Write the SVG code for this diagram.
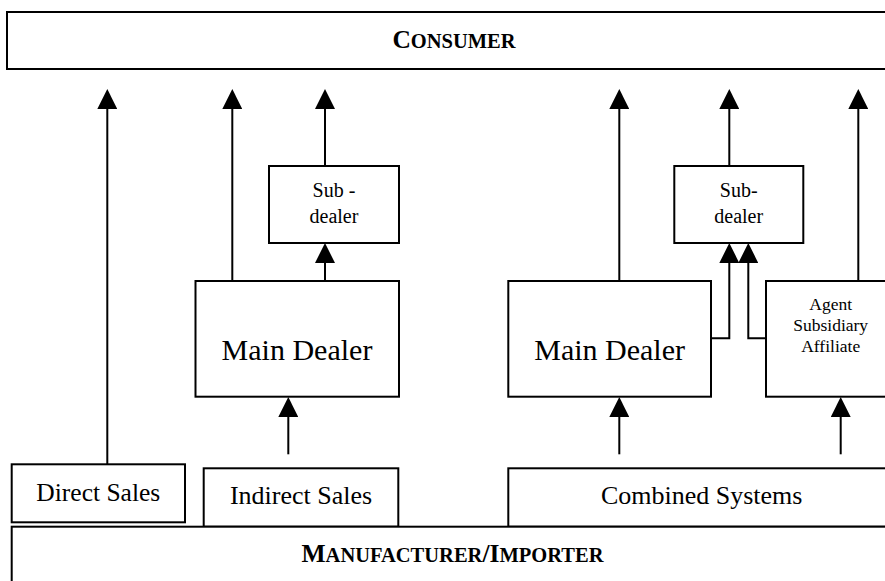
<svg xmlns="http://www.w3.org/2000/svg" width="885" height="581" viewBox="0 0 885 581">
<style>
.box{fill:#fff;stroke:#000;stroke-width:2}
.t{font-family:"Liberation Serif","Times New Roman",serif;fill:#000;text-anchor:middle}
.hdr{font-weight:bold;font-size:25.5px}
.sc{font-size:20.5px}
.con{fill:none;stroke:#000;stroke-width:2}
</style>
<defs>
<marker id="ah" markerUnits="userSpaceOnUse" markerWidth="20" markerHeight="20" refX="16" refY="10" orient="auto">
<path d="M0,0 L20,10 L0,20 z" fill="#000"/>
</marker>
</defs>
<rect width="885" height="581" fill="#fff"/>
<g id="consumer"><rect class="box" x="7" y="12" width="900" height="57"/>
<text class="t hdr" x="454" y="48">C<tspan class="sc">ONSUMER</tspan></text></g>
<g id="sub-dealer-1"><rect class="box" x="269" y="166" width="130" height="77"/>
<text class="t" font-size="20" x="334" y="197">Sub -</text><text class="t" font-size="20" x="334" y="223">dealer</text></g>
<g id="main-dealer-1"><rect class="box" x="195.5" y="281" width="203.5" height="115.7"/>
<text class="t" font-size="30" x="297" y="360">Main Dealer</text></g>
<g id="sub-dealer-2"><rect class="box" x="674.3" y="166" width="129" height="77"/>
<text class="t" font-size="20" x="738.7" y="197">Sub-</text><text class="t" font-size="20" x="738.7" y="223">dealer</text></g>
<g id="main-dealer-2"><rect class="box" x="508.3" y="281" width="202.7" height="115.7"/>
<text class="t" font-size="30" x="609.6" y="360">Main Dealer</text></g>
<g id="agent"><rect class="box" x="766" y="281" width="130" height="115.7"/>
<text class="t" font-size="17.5" x="830.7" y="309.5">Agent</text>
<text class="t" font-size="17.5" x="830.7" y="331">Subsidiary</text>
<text class="t" font-size="17.5" x="830.7" y="352">Affiliate</text></g>
<g id="direct-sales"><rect class="box" x="11.7" y="464.3" width="173.3" height="58"/>
<text class="t" font-size="25.5" x="98.3" y="501">Direct Sales</text></g>
<g id="indirect-sales"><rect class="box" x="203.7" y="468.3" width="194.6" height="58.4"/>
<text class="t" font-size="26" x="301" y="504">Indirect Sales</text></g>
<g id="combined-systems"><rect class="box" x="508.3" y="468.3" width="390" height="58.4"/>
<text class="t" font-size="26" x="701.7" y="504">Combined Systems</text></g>
<g id="manufacturer"><rect class="box" x="11.7" y="526.7" width="890" height="80"/>
<text class="t hdr" x="452.5" y="561.5">M<tspan class="sc">ANUFACTURER</tspan>/I<tspan class="sc">MPORTER</tspan></text></g>
<g id="connectors">
<path class="con" marker-end="url(#ah)" d="M107.3,464.3 V93"/>
<path class="con" marker-end="url(#ah)" d="M232.3,281 V93"/>
<path class="con" marker-end="url(#ah)" d="M325,166 V93"/>
<path class="con" marker-end="url(#ah)" d="M619.3,281 V93"/>
<path class="con" marker-end="url(#ah)" d="M729.3,166 V93"/>
<path class="con" marker-end="url(#ah)" d="M858.3,281 V93"/>
<path class="con" marker-end="url(#ah)" d="M325,281 V247"/>
<path class="con" marker-end="url(#ah)" d="M711,338.3 H729.3 V247"/>
<path class="con" marker-end="url(#ah)" d="M766,338.3 H748.3 V247"/>
<path class="con" marker-end="url(#ah)" d="M288.3,454.3 V401"/>
<path class="con" marker-end="url(#ah)" d="M619.3,454.3 V401"/>
<path class="con" marker-end="url(#ah)" d="M840.7,454.3 V401"/>
</g>
</svg>
